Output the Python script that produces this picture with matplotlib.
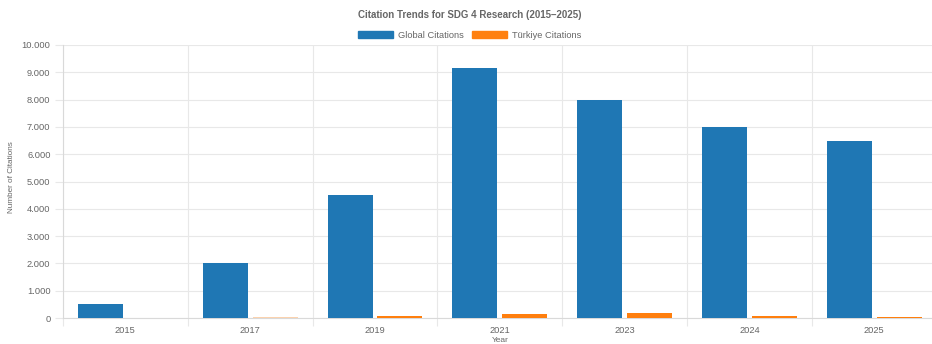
import matplotlib
matplotlib.use("Agg")
import matplotlib.pyplot as plt
from matplotlib.patches import Rectangle
from matplotlib.ticker import FuncFormatter, MultipleLocator, FixedLocator

plt.rcParams["font.family"] = ["Liberation Sans", "DejaVu Sans"]

years = ["2015", "2017", "2019", "2021", "2023", "2024", "2025"]
global_citations = [500, 2000, 4500, 9170, 8000, 7000, 6500]
turkiye_citations = [0, 30, 85, 150, 200, 60, 40]

BLUE = "#1f77b4"
ORANGE = "#ff7f0e"
GRID = "#e8e8e8"
TEXT = "#666666"

W, H = 932, 344
fig = plt.figure(figsize=(W / 100, H / 100), dpi=100)

# plot area in pixels: left 63, zero line 318, top 45, category width ~124.8
left, right, top, bottom = 63, 63 + 7 * 124.8, 45, 318
ax = fig.add_axes([left / W, 1 - bottom / H, (right - left) / W, (bottom - top) / H])

x = list(range(len(years)))
bw = 0.36
tk_colors = [ORANGE] * len(years)
tk_colors[1] = "#fbd2ae"
ax.bar([i - 0.2 for i in x], global_citations, width=bw, color=BLUE, zorder=3)
ax.bar([i + 0.2 for i in x], turkiye_citations, width=bw, color=tk_colors, zorder=3)

ax.set_xlim(-0.5, len(years) - 0.5)
ax.set_ylim(0, 10000)

ax.yaxis.set_major_locator(MultipleLocator(1000))
ax.yaxis.set_major_formatter(FuncFormatter(lambda v, _: f"{int(v):,}".replace(",", ".")))
ax.set_xticks(x)
ax.set_xticklabels(years)
ax.xaxis.set_minor_locator(FixedLocator([i - 0.5 for i in range(len(years) + 1)]))

ax.grid(axis="y", which="major", color=GRID, lw=0.8, zorder=0)
ax.grid(axis="x", which="minor", color=GRID, lw=0.8, zorder=0)
ax.tick_params(axis="x", which="major", length=0, pad=6, labelsize=6.7, labelcolor=TEXT)
ax.tick_params(axis="x", which="minor", length=6, color=GRID, width=0.8)
ax.tick_params(axis="y", length=6, color=GRID, width=0.8, pad=3, labelsize=6.7, labelcolor=TEXT)

for s in ("top", "right"):
    ax.spines[s].set_visible(False)
for s in ("left", "bottom"):
    ax.spines[s].set_color("#d9d9d9")
    ax.spines[s].set_linewidth(0.8)

fig.text(12 / W, 1 - 177 / H, "Number of Citations", rotation=90, ha="center", va="center",
         fontsize=5.9, color=TEXT)
fig.text(500 / W, 1 - 341 / H, "Year", ha="center", va="center", fontsize=6.0, color=TEXT)

fig.text(470 / W, 1 - 15 / H, "Citation Trends for SDG 4 Research (2015\u20132025)",
         ha="center", va="center", fontsize=7.0, fontweight="bold", color=TEXT)

handles = [Rectangle((0, 0), 1, 1, color=BLUE), Rectangle((0, 0), 1, 1, color=ORANGE)]
fig.legend(handles, ["Global Citations", "T\u00fcrkiye Citations"], loc="center",
           bbox_to_anchor=(470 / W, 1 - 35 / H), ncol=2, frameon=False, fontsize=6.7,
           labelcolor=TEXT, handlelength=3.7, handleheight=0.75, handletextpad=0.6,
           columnspacing=0.9)

fig.savefig("out.png", dpi=100)
